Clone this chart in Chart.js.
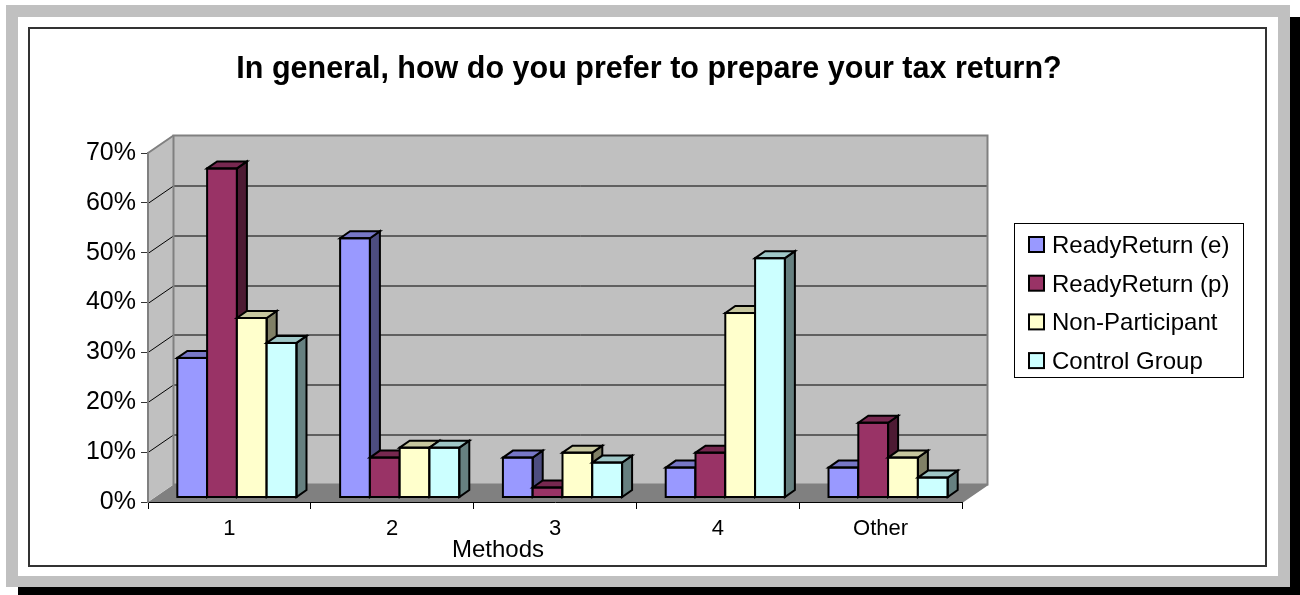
<!DOCTYPE html>
<html>
<head>
<meta charset="utf-8">
<title>Tax return preparation</title>
<script src="https://cdn.jsdelivr.net/npm/chart.js@4.4.1/dist/chart.umd.min.js"></script>
<style>
  html, body { margin: 0; padding: 0; background: #fff; }
  #shadow { position: absolute; left: 18px; top: 17px; width: 1282px; height: 578px; background: #000; }
  #frame { position: absolute; left: 6px; top: 5px; width: 1284px; height: 582px; background: #c0c0c0; }
  #paper { position: absolute; left: 18px; top: 17px; width: 1260px; height: 559px; background: #fff; }
  #box { position: absolute; left: 28px; top: 27px; width: 1235px; height: 536px; border: 2px solid #333; }
  #wrap { position: absolute; left: 0; top: 0; width: 1300px; height: 595px; }
</style>
</head>
<body>
<div id="shadow"></div>
<div id="frame"></div>
<div id="paper"></div>
<div id="box"></div>
<div id="wrap"><canvas id="chart" width="1300" height="595"></canvas></div>
<script>
const titleText = 'In general, how do you prefer to prepare your tax return?';
const axisTitle = 'Methods';
const categories = ['1', '2', '3', '4', 'Other'];
const seriesNames = ['ReadyReturn (e)', 'ReadyReturn (p)', 'Non-Participant', 'Control Group'];
const readyReturnE = [28, 52, 8, 6, 6];
const readyReturnP = [66, 8, 2, 9, 15];
const nonParticipant = [36, 10, 9, 37, 8];
const controlGroup = [31, 10, 7, 48, 4];
const yTicks = [0, 10, 20, 30, 40, 50, 60, 70];
const colors = ['#9999FF', '#993366', '#FFFFCC', '#CCFFFF'];

const FONT = "'Liberation Sans', Arial, sans-serif";
const DX = 25.5, DY = 17.5;          // depth of floor and walls
const BAR_DX = 10, BAR_DY = 7;       // depth of each column
const SHIFT_X = 7.5, SHIFT_Y = 4.5;  // columns stand a little behind the front edge

function poly(ctx, pts) {
  ctx.beginPath();
  ctx.moveTo(pts[0][0], pts[0][1]);
  for (let i = 1; i < pts.length; i++) ctx.lineTo(pts[i][0], pts[i][1]);
  ctx.closePath();
}

function shade(hex, f) {
  const n = parseInt(hex.slice(1), 16);
  const r = Math.round(((n >> 16) & 255) * f);
  const g = Math.round(((n >> 8) & 255) * f);
  const b = Math.round((n & 255) * f);
  return `rgb(${r},${g},${b})`;
}

// back wall, side wall, floor and gridlines
const wallsPlugin = {
  id: 'walls',
  beforeDraw(chart) {
    const { ctx, chartArea: a, scales: { y } } = chart;
    const L = a.left, R = a.right, T = a.top, B = a.bottom;
    ctx.save();
    ctx.fillStyle = '#808080';
    poly(ctx, [[L, B], [R, B], [R + DX, B - DY], [L + DX, B - DY]]);
    ctx.fill();
    ctx.fillStyle = '#c0c0c0';
    poly(ctx, [[L, T], [L + DX, T - DY], [L + DX, B - DY], [L, B]]);
    ctx.fill();
    ctx.fillRect(L + DX, T - DY, R - L, B - T);

    ctx.strokeStyle = '#000';
    ctx.lineWidth = 1;
    yTicks.forEach(v => {
      if (v === yTicks[0] || v === yTicks[yTicks.length - 1]) return;
      const py = Math.round(y.getPixelForValue(v)) + 0.5;
      ctx.beginPath();
      ctx.moveTo(L, py);
      ctx.lineTo(L + DX, py - DY);
      ctx.lineTo(R + DX, py - DY);
      ctx.stroke();
    });

    ctx.strokeStyle = '#808080';
    ctx.lineWidth = 2;
    ctx.strokeRect(L + DX, T - DY, R - L, B - T);
    ctx.beginPath();
    ctx.moveTo(L, T);
    ctx.lineTo(L + DX, T - DY);
    ctx.moveTo(R, B);
    ctx.lineTo(R + DX, B - DY);
    ctx.stroke();
    ctx.restore();
  }
};

// columns drawn left to right so each one covers the side of its neighbour
const columnsPlugin = {
  id: 'columns',
  beforeDatasetDraw() { return false; },
  afterDatasetsDraw(chart) {
    const ctx = chart.ctx;
    ctx.save();
    ctx.translate(SHIFT_X, -SHIFT_Y);
    ctx.lineWidth = 2;
    ctx.strokeStyle = '#000';
    chart.data.datasets.forEach((ds, i) => {
      const meta = chart.getDatasetMeta(i);
      meta.data.forEach(bar => {
        const { x, y, base, width } = bar.getProps(['x', 'y', 'base', 'width'], true);
        const l = x - width / 2, r = x + width / 2;
        bar.draw(ctx);
        ctx.fillStyle = shade(ds.backgroundColor, 0.5);
        poly(ctx, [[r, y], [r + BAR_DX, y - BAR_DY], [r + BAR_DX, base - BAR_DY], [r, base]]);
        ctx.fill();
        ctx.stroke();
        ctx.fillStyle = shade(ds.backgroundColor, 0.78);
        poly(ctx, [[l, y], [l + BAR_DX, y - BAR_DY], [r + BAR_DX, y - BAR_DY], [r, y]]);
        ctx.fill();
        ctx.stroke();
        ctx.strokeRect(l, y, width, base - y);
      });
    });
    ctx.restore();
  }
};

// title, axis title and the boxed legend on the right
const textPlugin = {
  id: 'texts',
  afterDraw(chart) {
    const ctx = chart.ctx;
    ctx.save();
    ctx.fillStyle = '#000';
    ctx.textBaseline = 'alphabetic';
    ctx.textAlign = 'center';
    ctx.font = `bold 30.5px ${FONT}`;
    ctx.fillText(titleText, 649, 78);
    ctx.font = `24px ${FONT}`;
    ctx.fillText(axisTitle, 498, 557);

    ctx.strokeStyle = '#000';
    ctx.lineWidth = 1;
    ctx.strokeRect(1014.5, 223.5, 229, 154);
    ctx.textAlign = 'left';
    chart.data.datasets.forEach((ds, i) => {
      const cy = 244.5 + i * 38.7;
      ctx.fillStyle = ds.backgroundColor;
      ctx.fillRect(1029, cy - 7.5, 15, 15);
      ctx.lineWidth = 2;
      ctx.strokeRect(1029, cy - 7.5, 15, 15);
      ctx.fillStyle = '#000';
      ctx.fillText(ds.label, 1052, cy + 8.5);
    });
    ctx.restore();
  }
};

const seriesValues = [readyReturnE, readyReturnP, nonParticipant, controlGroup];

new Chart(document.getElementById('chart'), {
  type: 'bar',
  data: {
    labels: categories,
    datasets: seriesNames.map((name, i) => ({
      label: name,
      data: seriesValues[i],
      backgroundColor: colors[i],
      borderWidth: 0
    }))
  },
  options: {
    responsive: false,
    animation: false,
    categoryPercentage: 0.732,
    barPercentage: 1,
    layout: { padding: { left: 30, right: 338, top: 153, bottom: 23 } },
    plugins: {
      legend: { display: false },
      title: { display: false },
      tooltip: { enabled: false }
    },
    scales: {
      x: {
        grid: { drawOnChartArea: false, tickLength: 7, color: '#000', offset: true },
        border: { color: '#000', width: 1 },
        ticks: { color: '#000', font: { family: FONT, size: 22 }, padding: 7 },
        afterFit(s) { s.height = 70; }
      },
      y: {
        min: 0,
        max: 70,
        afterBuildTicks(s) { s.ticks = yTicks.map(v => ({ value: v })); },
        ticks: { color: '#000', font: { family: FONT, size: 25 }, padding: 5, callback: v => v + '%' },
        grid: { drawOnChartArea: false, tickLength: 7, color: '#333' },
        border: { color: '#808080', width: 2 },
        afterFit(s) { s.width = 118; }
      }
    }
  },
  plugins: [wallsPlugin, columnsPlugin, textPlugin]
});
</script>
</body>
</html>
